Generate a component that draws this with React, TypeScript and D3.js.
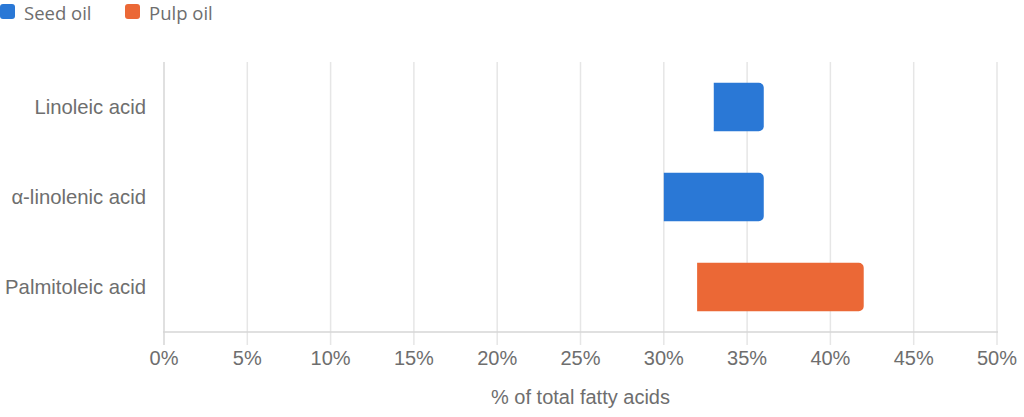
import React from "react";
import * as d3 from "d3";

const categories = ["Linoleic acid", "α-linolenic acid", "Palmitoleic acid"];
const seriesNames = ["Seed oil", "Pulp oil"];
const seriesColors = ["#2a78d6", "#eb6836"];
// [start, end] in % for each category; seriesIndex
const barStart = [33, 30, 32];
const barEnd = [36, 36, 42];
const barSeries = [0, 0, 1];
const xTicks = [0, 5, 10, 15, 20, 25, 30, 35, 40, 45, 50];
const xTitle = "% of total fatty acids";

const W = 1024, H = 417;
const left = 164, right = 997, top = 62, bottom = 332;

export default function App() {
  const x = d3.scaleLinear().domain([0, 50]).range([left, right]);
  const y = d3.scaleBand().domain(categories).range([top, bottom]).paddingInner(0).paddingOuter(0);
  const bw = y.bandwidth() * 0.54;
  const r = 5;
  const barPath = (x0: number, x1: number, yc: number) => {
    const y0 = yc - bw / 2, y1 = yc + bw / 2;
    const p = d3.path();
    p.moveTo(x0, y0);
    p.lineTo(x1 - r, y0);
    p.arcTo(x1, y0, x1, y0 + r, r);
    p.lineTo(x1, y1 - r);
    p.arcTo(x1, y1, x1 - r, y1, r);
    p.lineTo(x0, y1);
    p.closePath();
    return p.toString();
  };
  const font = "'Liberation Sans', Arial, sans-serif";
  const txt = "#6e6e6e";
  return (
    <svg width={W} height={H} style={{ position: "absolute", left: 0, top: 0, background: "#fff" }}>
      {/* legend */}
      {seriesNames.map((s, i) => {
        const lx = i === 0 ? 0 : 125;
        return (
          <g key={s}>
            <rect x={lx} y={4} width={15} height={15} rx={3} fill={seriesColors[i]} />
            <text x={lx + 24} y={19.5} fontFamily="'Open Sans', 'Noto Sans', sans-serif" fontSize={18.5} fill={txt}>{s}</text>
          </g>
        );
      })}
      {/* grid */}
      {xTicks.map((t) => (
        <line key={t} x1={x(t)} x2={x(t)} y1={top} y2={bottom + 13}
          stroke={t === 0 ? "#d6d6d6" : "#e6e6e6"} strokeWidth={1.5} />
      ))}
      <line x1={left - 1} x2={right + 1} y1={bottom} y2={bottom} stroke="#d6d6d6" strokeWidth={1.5} />
      {/* bars */}
      {categories.map((c, i) => (
        <path key={c} d={barPath(x(barStart[i]), x(barEnd[i]), (y(c) as number) + y.bandwidth() / 2)}
          fill={seriesColors[barSeries[i]]} />
      ))}
      {/* y labels */}
      {categories.map((c) => (
        <text key={c} x={146} y={(y(c) as number) + y.bandwidth() / 2} dy="0.35em" textAnchor="end"
          fontFamily={font} fontSize={20.3} fill={txt}>{c}</text>
      ))}
      {/* x tick labels */}
      {xTicks.map((t) => (
        <text key={t} x={x(t)} y={365} textAnchor="middle" fontFamily={font} fontSize={20} fill={txt}>{t + "%"}</text>
      ))}
      <text x={(left + right) / 2} y={404} textAnchor="middle" fontFamily={font} fontSize={20} fill={txt}>{xTitle}</text>
    </svg>
  );
}
